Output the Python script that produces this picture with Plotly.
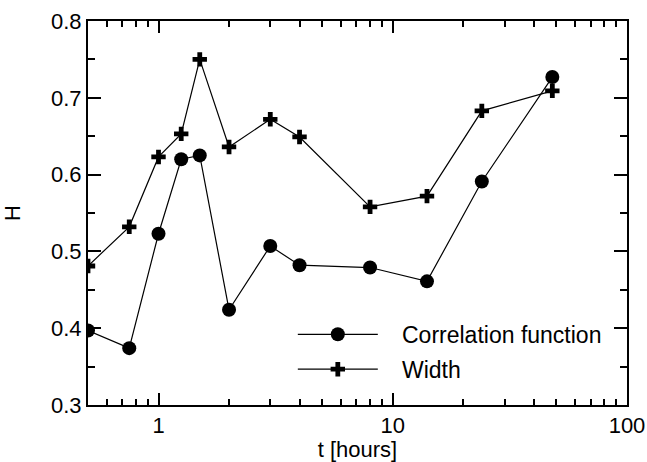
import plotly.graph_objects as go

t_corr = [0.5, 0.75, 1.0, 1.25, 1.5, 2.0, 3.0, 4.0, 8.0, 14.0, 24.0, 48.0]
h_corr = [0.397, 0.374, 0.523, 0.620, 0.625, 0.424, 0.507, 0.482, 0.479, 0.461, 0.591, 0.727]

t_width = [0.5, 0.75, 1.0, 1.25, 1.5, 2.0, 3.0, 4.0, 8.0, 14.0, 24.0, 48.0]
h_width = [0.481, 0.532, 0.623, 0.653, 0.750, 0.636, 0.672, 0.649, 0.558, 0.572, 0.683, 0.709]

x_major = [1, 10, 100]
x_minor = [0.6, 0.7, 0.8, 0.9, 2, 3, 4, 5, 6, 7, 8, 9, 20, 30, 40, 50, 60, 70, 80, 90]
y_major = [0.3, 0.4, 0.5, 0.6, 0.7, 0.8]

FONT = "Liberation Sans, Arial, sans-serif"
PAD = "\u00a0\u00a0\u00a0"

fig = go.Figure()
fig.add_trace(go.Scatter(
    x=t_corr, y=h_corr, mode="lines+markers", name=PAD + "Correlation function",
    legendgroup="a",
    line=dict(color="black", width=1.2),
    marker=dict(symbol="circle", size=14, color="black"),
))
fig.add_trace(go.Scatter(
    x=t_width, y=h_width, mode="lines+markers", name=PAD + "Width",
    legendgroup="b",
    line=dict(color="black", width=1.2),
    marker=dict(symbol="cross", size=12, color="black"),
))

fig.update_layout(
    width=647, height=462,
    margin=dict(l=88, r=20, t=21, b=57),
    paper_bgcolor="white", plot_bgcolor="white",
    font=dict(family=FONT, color="black", size=22),
    showlegend=True,
    legend=dict(
        x=0.38, y=0.24, xanchor="left", yanchor="top",
        bgcolor="rgba(0,0,0,0)", font=dict(size=23, family=FONT),
        itemwidth=80, tracegroupgap=2, traceorder="grouped",
        itemsizing="trace",
    ),
    xaxis=dict(
        type="log", range=[-0.30103, 2], automargin=False,
        tickmode="array", tickvals=x_major, ticktext=["1", "10", "100"],
        ticks="inside", ticklen=12, tickwidth=1.5, tickcolor="black",
        minor=dict(tickmode="array", tickvals=x_minor, ticks="inside",
                   ticklen=6, tickwidth=1.5, tickcolor="black"),
        showline=True, linecolor="black", linewidth=2, mirror="ticks",
        showgrid=False, zeroline=False,
        tickfont=dict(size=22),
        title=dict(text="t [hours]", font=dict(size=22), standoff=10),
    ),
    yaxis=dict(
        range=[0.3, 0.8], automargin=False,
        tickmode="array", tickvals=y_major, ticktext=["0.3", "0.4", "0.5", "0.6", "0.7", "0.8"],
        ticks="inside", ticklen=13, tickwidth=1.5, tickcolor="black",
        minor=dict(tickmode="array", tickvals=[0.35, 0.45, 0.55, 0.65, 0.75], ticks="inside",
                   ticklen=7, tickwidth=1.5, tickcolor="black"),
        showline=True, linecolor="black", linewidth=2, mirror="ticks",
        showgrid=False, zeroline=False,
        tickfont=dict(size=22),
        title=dict(text="H", font=dict(size=22), standoff=24),
    ),
)

fig.write_html("out.html")
